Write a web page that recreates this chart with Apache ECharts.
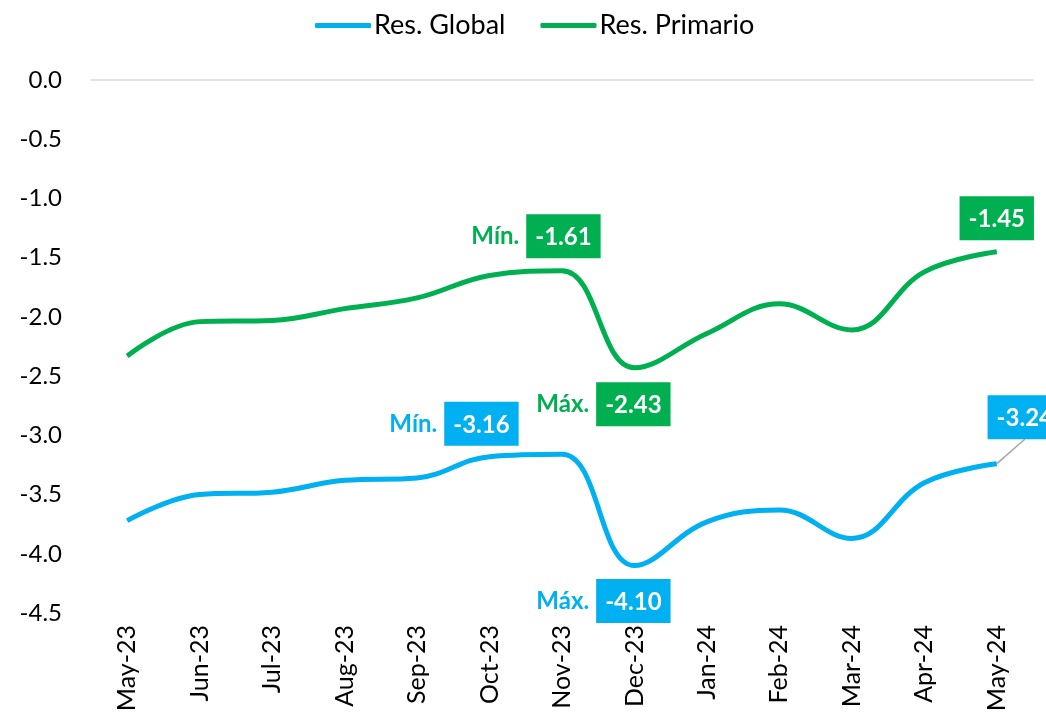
<!DOCTYPE html>
<html>
<head>
<meta charset="utf-8">
<script src="https://cdn.jsdelivr.net/npm/echarts@6/dist/echarts.min.js"></script>
<style>
  html, body { margin: 0; padding: 0; background: #fff; }
  #main { width: 1046px; height: 723px; }
</style>
</head>
<body>
<div id="main"></div>
<script>
// datos
var months = ['May-23', 'Jun-23', 'Jul-23', 'Aug-23', 'Sep-23', 'Oct-23', 'Nov-23',
    'Dec-23', 'Jan-24', 'Feb-24', 'Mar-24', 'Apr-24', 'May-24'];
var resGlobal = [-3.72, -3.50, -3.48, -3.38, -3.36, -3.18, -3.16, -4.10, -3.73, -3.63, -3.87, -3.40, -3.24];
var resPrimario = [-2.33, -2.04, -2.03, -1.93, -1.84, -1.65, -1.61, -2.43, -2.14, -1.89, -2.11, -1.62, -1.45];

var azul = '#00B0F0';
var verde = '#00B050';
var fuente = 'Lato, "Open Sans", sans-serif';

function richFor(color) {
    return {
        t: { color: color, fontWeight: 'bold', fontSize: 24, fontFamily: fuente, padding: [0, 7, 0, 0] },
        b: { color: '#fff', backgroundColor: color, fontWeight: 'bold', fontSize: 24, fontFamily: fuente,
            padding: [11, 9, 9, 9], lineHeight: 24 }
    };
}

// etiquetas: indice -> [prefijo, posicion, desplazamiento, linea guia]
function buildData(values, color, marks) {
    return values.map(function (v, i) {
        var m = marks[i];
        if (!m) return v;
        return {
            value: v,
            label: {
                show: true,
                position: m[1],
                rich: richFor(color),
                formatter: function (p) {
                    var txt = '{b|' + p.value.toFixed(2) + '}';
                    return m[0] ? '{t|' + m[0] + '}' + txt : txt;
                }
            },
            labelLine: { show: !!m[3], lineStyle: { color: '#a6a6a6', width: 1.5 } }
        };
    });
}

var marksVerde = {
    6: ['Mín.', 'top', [-26, -17]],
    7: ['Máx.', 'bottom', [-31, 19]],
    12: ['', 'top', [0, -16]]
};
var marksAzul = {
    6: ['Mín.', 'top', [-108, -13]],
    7: ['Máx.', 'bottom', [-31, 18]],
    12: ['', 'top', [28, -29], true]
};

function layoutFor(marks) {
    return function (p) {
        var m = marks[p.dataIndex];
        if (!m) return {};
        return { dx: m[2][0], dy: m[2][1] };
    };
}

var myChart = echarts.init(document.getElementById('main'));

var option = {
    animation: false,
    legend: {
        top: 7,
        left: 310,
        itemWidth: 56,
        itemHeight: 5,
        itemGap: 35,
        icon: 'roundRect',
        textStyle: { fontSize: 27, fontFamily: fuente, color: '#000', padding: [0, 0, 0, -2] },
        data: ['Res. Global', 'Res. Primario']
    },
    grid: { left: 91, right: 13, top: 80, bottom: 110 },
    xAxis: [{
        type: 'category',
        data: months,
        boundaryGap: true,
        axisLine: { show: false },
        axisTick: { show: false },
        axisLabel: { rotate: 90, fontSize: 25, fontFamily: fuente, color: '#000', margin: 12, interval: 0 }
    }, {
        type: 'category',
        data: months,
        position: 'top',
        axisLine: { show: true, lineStyle: { color: '#d9d9d9', width: 1.5 } },
        axisTick: { show: false },
        axisLabel: { show: false }
    }],
    yAxis: {
        type: 'value',
        min: -4.5,
        max: 0,
        interval: 0.5,
        splitLine: { show: false },
        axisLine: { show: false },
        axisTick: { show: false },
        axisLabel: {
            fontSize: 24, fontFamily: fuente, color: '#000', margin: 29,
            formatter: function (v) { return v.toFixed(1); }
        }
    },
    series: [{
        name: 'Res. Global',
        type: 'line',
        smooth: 0.4,
        symbol: 'circle',
        symbolSize: 1,
        showSymbol: true,
        showAllSymbol: true,
        color: azul,
        lineStyle: { width: 5, color: azul },
        labelLayout: layoutFor(marksAzul),
        data: buildData(resGlobal, azul, marksAzul)
    }, {
        name: 'Res. Primario',
        type: 'line',
        smooth: 0.4,
        symbol: 'circle',
        symbolSize: 1,
        showSymbol: true,
        showAllSymbol: true,
        color: verde,
        lineStyle: { width: 5, color: verde },
        labelLayout: layoutFor(marksVerde),
        data: buildData(resPrimario, verde, marksVerde)
    }]
};

myChart.setOption(option);
</script>
</body>
</html>
